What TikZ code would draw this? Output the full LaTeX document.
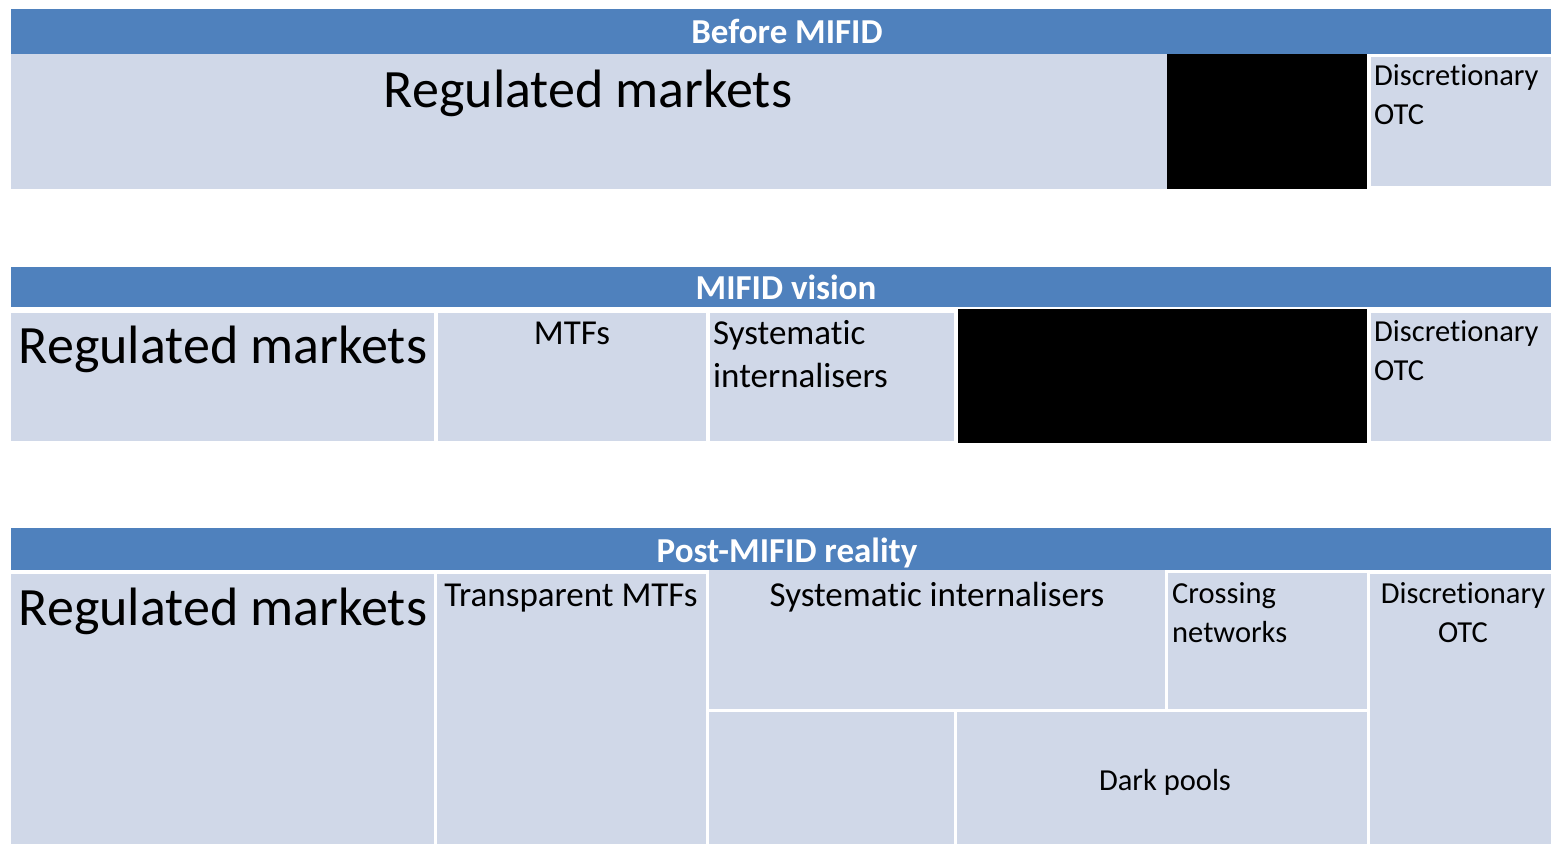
\documentclass[tikz,border=0pt]{standalone}
\usepackage{fontspec}
\setmainfont{Carlito}[Ligatures=NoCommon]
\usetikzlibrary{fit}

\definecolor{hdrblue}{HTML}{4F81BD}
\definecolor{cellblue}{HTML}{D0D8E8}

\tikzset{
  box/.style={inner sep=0pt, outer sep=0pt},
  hdr/.style={box, fill=hdrblue},
  cell/.style={box, fill=cellblue},
  hidden/.style={box, fill=black},
  bigtxt/.style={inner sep=0pt, font=\fontsize{54}{64}\selectfont},
  txt/.style={inner sep=0pt, align=left, font=\fontsize{30.5}{39}\selectfont},
  midtxt/.style={inner sep=0pt, align=left, font=\fontsize{35}{43}\selectfont},
  hdrtxt/.style={inner sep=0pt, text=white, font=\fontsize{35}{40}\selectfont\bfseries},
}

\begin{document}
\begin{tikzpicture}[x=1pt, y=-1pt]
  \useasboundingbox (0,0) rectangle (1551,844);

  % before MIFID
  \node[hdr, fit={(11,9) (1551,54)}] (hdr1) {};
  \node[cell, fit={(11,54) (1167,189)}] (rm1) {};
  \node[hidden, fit={(1167,54) (1367,189)}] (blk1) {};
  \node[cell, fit={(1371,57) (1551,186)}] (otc1) {};
  \node[hdrtxt, anchor=base] (hdr1t) at (787,43) {Before MIFID};
  \node[bigtxt, anchor=base] (rm1t) at (588,107) {Regulated markets};
  \node[txt, anchor=base west] (otc1t) at (1374,124) {Discretionary\\OTC};

  % MIFID vision
  \node[hdr, fit={(11,267) (1551,307)}] (hdr2) {};
  \node[cell, fit={(11,313) (434,441)}] (rm2) {};
  \node[cell, fit={(438,313) (706,441)}] (mtf2) {};
  \node[cell, fit={(710,313) (954,441)}] (si2) {};
  \node[hidden, fit={(958,309) (1367,443)}] (blk2) {};
  \node[cell, fit={(1371,313) (1551,441)}] (otc2) {};
  \node[hdrtxt, anchor=base] (hdr2t) at (786,299) {MIFID vision};
  \node[bigtxt, anchor=base] (rm2t) at (223,363) {Regulated markets};
  \node[midtxt, anchor=base] (mtf2t) at (572,344) {MTFs};
  \node[midtxt, anchor=base west] (si2t) at (713,387) {Systematic\\internalisers};
  \node[txt, anchor=base west] (otc2t) at (1374,380) {Discretionary\\OTC};

  % post-MIFID reality
  \node[hdr, fit={(11,528) (1551,570)}] (hdr3) {};
  \node[cell, fit={(11,574) (434,844)}] (rm3) {};
  \node[cell, fit={(437,574) (706,844)}] (tmtf3) {};
  \node[cell, fit={(709,570) (1165,709)}] (si3) {};
  \node[cell, fit={(1168,573) (1367,709)}] (cn3) {};
  \node[cell, fit={(1370,574) (1551,844)}] (otc3) {};
  \node[cell, fit={(709,712) (954,844)}] (gap3) {};
  \node[cell, fit={(957,712) (1367,844)}] (dp3) {};
  \node[hdrtxt, anchor=base] (hdr3t) at (787,562) {Post-MIFID reality};
  \node[bigtxt, anchor=base] (rm3t) at (223,625) {Regulated markets};
  \node[midtxt, anchor=base] (tmtf3t) at (571,606) {Transparent MTFs};
  \node[midtxt, anchor=base] (si3t) at (937,606) {Systematic internalisers};
  \node[txt, anchor=base west] (cn3t) at (1172,642) {Crossing\\networks};
  \node[txt, anchor=base, align=center] (otc3t) at (1463,642) {Discretionary\\OTC};
  \node[txt, anchor=base] (dp3t) at (1165,790) {Dark pools};
\end{tikzpicture}
\end{document}
